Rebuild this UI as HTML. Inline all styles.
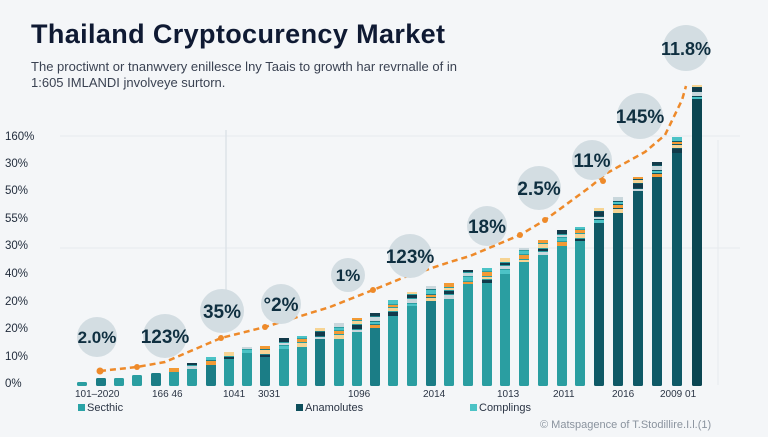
<!DOCTYPE html>
<html><head><meta charset="utf-8"><style>
body{margin:0;width:768px;height:432px;background:#f4f6f8;overflow:hidden;font-family:"Liberation Sans",sans-serif;}
</style></head><body>
<svg width="768" height="432" viewBox="0 0 768 432" xmlns="http://www.w3.org/2000/svg" font-family="Liberation Sans, sans-serif">
<text x="31" y="43" font-size="27" font-weight="bold" fill="#0f1a33" textLength="414">Thailand Cryptocurency Market</text>
<text x="31" y="71" font-size="13" fill="#3a4252" textLength="426">The proctiwnt or tnanwvery enillesce lny Taais to growth har revrnalle of in</text>
<text x="31" y="87" font-size="13" fill="#3a4252">1:605  IMLANDI jnvolveye surtorn.</text>
<line x1="60" y1="136" x2="740" y2="136" stroke="#e6eaee"/>
<line x1="60" y1="248" x2="740" y2="248" stroke="#e6eaee"/>
<line x1="226" y1="130" x2="226" y2="290" stroke="#dde3e8" stroke-width="1.5"/>
<line x1="718" y1="140" x2="718" y2="385" stroke="#e6eaee"/>
<g font-size="11.5" fill="#1f2a3a">
<text x="5" y="140">160%</text><text x="5" y="167">30%</text><text x="5" y="194">50%</text><text x="5" y="222">55%</text><text x="5" y="249">30%</text><text x="5" y="277">40%</text><text x="5" y="305">20%</text><text x="5" y="332">20%</text><text x="5" y="360">10%</text><text x="5" y="387">0%</text>
</g>
<g id="bars"></g>
<polyline fill="none" stroke="#ee8a2a" stroke-width="2.5" stroke-dasharray="6,4" points="100,371 137,367 165,362 221,338 265,327 330,307 373,290 405,277 450,262 470,256 520,235 545,220 590,187 607,173 645,152 665,135 682,100 686,86"/>
<g fill="#ee8a2a"><circle cx="100" cy="371" r="3.5"/><circle cx="137" cy="367" r="3"/><circle cx="221" cy="338" r="3"/><circle cx="265" cy="327" r="3"/><circle cx="373" cy="290" r="3"/><circle cx="520" cy="235" r="3"/><circle cx="545" cy="220" r="3"/><circle cx="603" cy="181" r="3"/></g>
<g fill="#d3dde2">
<circle cx="97" cy="337" r="20"/><circle cx="165" cy="336" r="22"/><circle cx="222" cy="311" r="22"/><circle cx="281" cy="304" r="20"/><circle cx="348" cy="275" r="17"/><circle cx="410" cy="256" r="22"/><circle cx="487" cy="226" r="20"/><circle cx="539" cy="188" r="22"/><circle cx="592" cy="160" r="20"/><circle cx="640" cy="116" r="23"/><circle cx="686" cy="48" r="23"/>
</g>
<g font-size="17" fill="#0f2f40" text-anchor="middle" font-weight="600">
<text x="97" y="343">2.0%</text><text x="165" y="343" font-size="19">123%</text><text x="222" y="318" font-size="19">35%</text><text x="281" y="311" font-size="19">°2%</text><text x="348" y="281">1%</text><text x="410" y="263" font-size="19">123%</text><text x="487" y="233" font-size="19">18%</text><text x="539" y="195" font-size="19">2.5%</text><text x="592" y="167" font-size="19">11%</text><text x="640" y="123" font-size="19">145%</text><text x="686" y="55" font-size="18">11.8%</text>
</g>
<g font-size="10" fill="#2a3444">
<text x="75" y="397">101–2020</text><text x="152" y="397">166 46</text><text x="223" y="397">1041</text><text x="258" y="397">3031</text><text x="348" y="397">1096</text><text x="423" y="397">2014</text><text x="497" y="397">1013</text><text x="553" y="397">2011</text><text x="612" y="397">2016</text><text x="660" y="397">2009 01</text>
</g>
<rect x="78" y="404" width="7" height="7" fill="#2aa3a6"/><text x="87" y="411" font-size="11" fill="#2a3444">Secthic</text>
<rect x="296" y="404" width="7" height="7" fill="#0d4f5c"/><text x="305" y="411" font-size="11" fill="#2a3444">Anamolutes</text>
<rect x="470" y="404" width="7" height="7" fill="#4cc3c6"/><text x="479" y="411" font-size="11" fill="#2a3444">Complings</text>
<text x="540" y="428" font-size="11" fill="#8a939e">© Matspagence of T.Stodillire.I.l.(1)</text>
</svg>
<script>
var xs=[82,101,119,137,156,174,192,211,229,247,265,284,302,320,339,357,375,393,412,431,449,468,487,505,524,543,562,580,599,618,638,657,677,697];
var tops=[382,378,378,375,373,368,363,357,352,347,346,338,336,328,323,318,313,300,292,286,283,270,268,258,248,240,230,227,208,197,177,162,137,85];
var g=document.getElementById('bars'),ns='http://www.w3.org/2000/svg',base=386;
var cols=['#f29a35','#f6d494','#123a4a','#c9d7dc','#4cc3c6'];
for(var i=0;i<xs.length;i++){
 var t=tops[i],w=10,x=xs[i]-5,h=base-t;
 var main=i>=28?'#0f5966':(i%3==1&&i<20?'#1b7d86':'#2a9ea1');
 if(i==33)main='#0b4652';
 var r=document.createElementNS(ns,'rect');r.setAttribute('x',x);r.setAttribute('y',t);r.setAttribute('width',w);r.setAttribute('height',h);r.setAttribute('fill',main);r.setAttribute('rx',1.5);g.appendChild(r);
 if(h>15){var n=Math.min(4,Math.floor(h/20)+1);var y=t;
  for(var k=0;k<n;k++){var s=document.createElementNS(ns,'rect');var sh=2+((i+k)%3);s.setAttribute('x',x);s.setAttribute('y',y);s.setAttribute('width',w);s.setAttribute('height',sh);s.setAttribute('fill',cols[(i*2+k)%5]);g.appendChild(s);y+=sh+1;}}
}
</script>
</body></html>
